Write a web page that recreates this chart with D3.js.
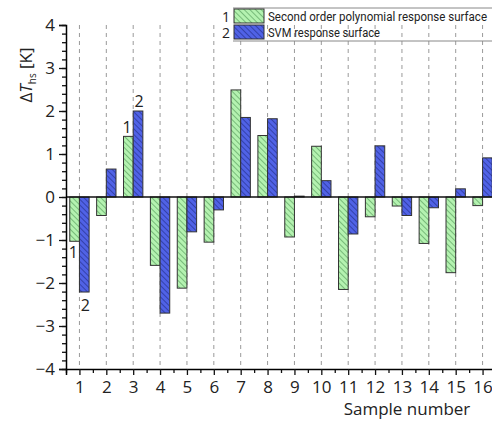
<!DOCTYPE html>
<html>
<head>
<meta charset="utf-8">
<script src="https://cdn.jsdelivr.net/npm/d3@7"></script>
<style>
  html, body { margin: 0; padding: 0; background: #fff; }
  svg { display: block; font-family: "Open Sans", "Noto Sans", sans-serif; }
</style>
</head>
<body>
<svg id="chart" width="492" height="421"></svg>
<script>
// Data
const samples = [1, 2, 3, 4, 5, 6, 7, 8, 9, 10, 11, 12, 13, 14, 15, 16];
const polyValues = [-1.03, -0.43, 1.41, -1.59, -2.12, -1.05, 2.49, 1.43, -0.93, 1.18, -2.15, -0.46, -0.21, -1.08, -1.76, -0.20];
const svmValues = [-2.21, 0.65, 2.0, -2.70, -0.81, -0.30, 1.85, 1.82, 0.02, 0.38, -0.86, 1.19, -0.43, -0.25, 0.19, 0.91];
const seriesNames = ["Second order polynomial response surface", "SVM response surface"];
const yTicks = [-4, -3, -2, -1, 0, 1, 2, 3, 4];

const width = 492, height = 421;
const margin = { top: 25, right: -4, bottom: 52, left: 66 };

const svg = d3.select("#chart");

// -------- Patterns (hatched fills) --------
const defs = svg.append("defs");
function hatch(id, bg, fg) {
    const p = defs.append("pattern")
        .attr("id", id)
        .attr("patternUnits", "userSpaceOnUse")
        .attr("width", 4).attr("height", 4)
        .attr("patternTransform", "rotate(45)");
    p.append("rect").attr("width", 4).attr("height", 4).attr("fill", bg);
    p.append("line").attr("x1", 0).attr("y1", 0).attr("x2", 4).attr("y2", 0)
        .attr("stroke", fg).attr("stroke-width", 1.5);
}
hatch("hatchGreen", "#b4f2b0", "#62a866");
hatch("hatchBlue", "#5062e6", "#2a3596");

// -------- Scales --------
const x = d3.scaleLinear()
    .domain([0.5, 16.5])
    .range([margin.left, width - margin.right]);

const y = d3.scaleLinear()
    .domain([-4, 4])
    .range([height - margin.bottom, margin.top]);

const barW = (x(1) - x(0)) * 0.36;

// -------- Grid lines --------
svg.append("g")
    .selectAll("line")
    .data(samples)
    .join("line")
    .attr("x1", d => x(d)).attr("x2", d => x(d))
    .attr("y1", y(4)).attr("y2", y(-4))
    .attr("stroke", "#9a9a9a")
    .attr("stroke-width", 1)
    .attr("stroke-dasharray", "4,4");

// -------- Bars --------
const barsG = svg.append("g");
barsG.selectAll("rect.poly")
    .data(samples)
    .join("rect")
    .attr("class", "poly")
    .attr("x", d => x(d) - barW)
    .attr("width", barW)
    .attr("y", (d, i) => y(Math.max(0, polyValues[i])))
    .attr("height", (d, i) => Math.abs(y(polyValues[i]) - y(0)))
    .attr("fill", "url(#hatchGreen)")
    .attr("stroke", "#333")
    .attr("stroke-width", 1);

barsG.selectAll("rect.svm")
    .data(samples)
    .join("rect")
    .attr("class", "svm")
    .attr("x", d => x(d))
    .attr("width", barW)
    .attr("y", (d, i) => y(Math.max(0, svmValues[i])))
    .attr("height", (d, i) => Math.abs(y(svmValues[i]) - y(0)))
    .attr("fill", "url(#hatchBlue)")
    .attr("stroke", "#333")
    .attr("stroke-width", 1);

// -------- Zero line --------
svg.append("line")
    .attr("x1", x(0.5)).attr("x2", width)
    .attr("y1", y(0)).attr("y2", y(0))
    .attr("stroke", "#111").attr("stroke-width", 1.5);

// -------- Y axis --------
const yAxis = svg.append("g")
    .attr("transform", `translate(${margin.left},0)`);
yAxis.append("g")
    .call(d3.axisLeft(y).tickValues(d3.range(-4, 4.001, 0.2)).tickSize(4).tickFormat(""))
    .call(g => g.select(".domain").remove());
yAxis.append("g")
    .call(d3.axisLeft(y).tickValues(yTicks).tickSize(7).tickPadding(4)
        .tickFormat(d => d < 0 ? "\u2212" + Math.abs(d) : d))
    .call(g => g.select(".domain").attr("stroke-width", 1.5))
    .call(g => g.selectAll("text").attr("font-size", 17).attr("fill", "#222")
        .attr("font-family", "'Open Sans', sans-serif"));
yAxis.selectAll("line").attr("stroke", "#111").attr("stroke-width", 1.3);

// -------- X axis --------
const xAxis = svg.append("g")
    .attr("transform", `translate(0,${height - margin.bottom})`);
xAxis.append("g")
    .call(d3.axisBottom(x).tickValues(d3.range(0.5, 17, 1)).tickSize(4).tickFormat(""))
    .call(g => g.select(".domain").remove());
xAxis.append("g")
    .call(d3.axisBottom(x).tickValues(samples).tickSize(6).tickPadding(6))
    .call(g => g.select(".domain").attr("stroke-width", 1.5))
    .call(g => g.selectAll("text").attr("font-size", 17).attr("fill", "#222")
        .attr("font-family", "'Open Sans', sans-serif"));
xAxis.selectAll("line").attr("stroke", "#111").attr("stroke-width", 1.3);

// -------- Axis titles --------
const yTitle = svg.append("text")
    .attr("transform", `translate(32,75) rotate(-90)`)
    .attr("text-anchor", "middle")
    .attr("font-size", 17)
    .attr("fill", "#222");
yTitle.append("tspan").text("\u0394");
yTitle.append("tspan").attr("font-style", "italic").text("T");
yTitle.append("tspan").attr("font-size", 10).attr("dy", 4).text("hs");
yTitle.append("tspan").attr("dy", -4).text(" [K]");

svg.append("text")
    .attr("x", 407).attr("y", 415)
    .attr("text-anchor", "middle")
    .attr("font-size", 17)
    .attr("fill", "#222")
    .text("Sample number");

// -------- Series markers next to sample 1 and 3 --------
const markers = [
    { t: "1", s: 1, v: polyValues[0], dx: -6, dy: 17 },
    { t: "2", s: 1, v: svmValues[0], dx: 6, dy: 19 },
    { t: "1", s: 3, v: polyValues[2], dx: -6, dy: -3 },
    { t: "2", s: 3, v: svmValues[2], dx: 6, dy: -4 }
];
svg.append("g")
    .selectAll("text")
    .data(markers)
    .join("text")
    .attr("x", d => x(d.s) + d.dx)
    .attr("y", d => y(d.v) + d.dy)
    .attr("text-anchor", "middle")
    .attr("font-size", 16)
    .attr("fill", "#222")
    .text(d => d.t);

// -------- Legend --------
const legend = svg.append("g").attr("transform", "translate(233,8)");
legend.append("line").attr("x1", 0).attr("x2", 259).attr("y1", 0).attr("y2", 0)
    .attr("stroke", "#888");
legend.append("line").attr("x1", 0).attr("x2", 259).attr("y1", 33).attr("y2", 33)
    .attr("stroke", "#888");
const fills = ["url(#hatchGreen)", "url(#hatchBlue)"];
const nameWidths = [219, 112];
seriesNames.forEach((name, i) => {
    const row = legend.append("g").attr("transform", `translate(0,${1 + i * 16})`);
    row.append("rect").attr("x", 1).attr("y", 0).attr("width", 30).attr("height", 14)
        .attr("fill", fills[i]).attr("stroke", "#333").attr("stroke-width", 1);
    row.append("text").attr("x", -7).attr("y", 12.5).attr("text-anchor", "middle")
        .attr("font-size", 14).attr("fill", "#222").text(i + 1);
    row.append("text").attr("x", 35).attr("y", 11.5)
        .attr("font-family", "Roboto, 'Open Sans', sans-serif")
        .attr("font-size", 12.5).attr("fill", "#222")
        .attr("textLength", nameWidths[i]).attr("lengthAdjust", "spacingAndGlyphs")
        .text(name);
});
</script>
</body>
</html>
